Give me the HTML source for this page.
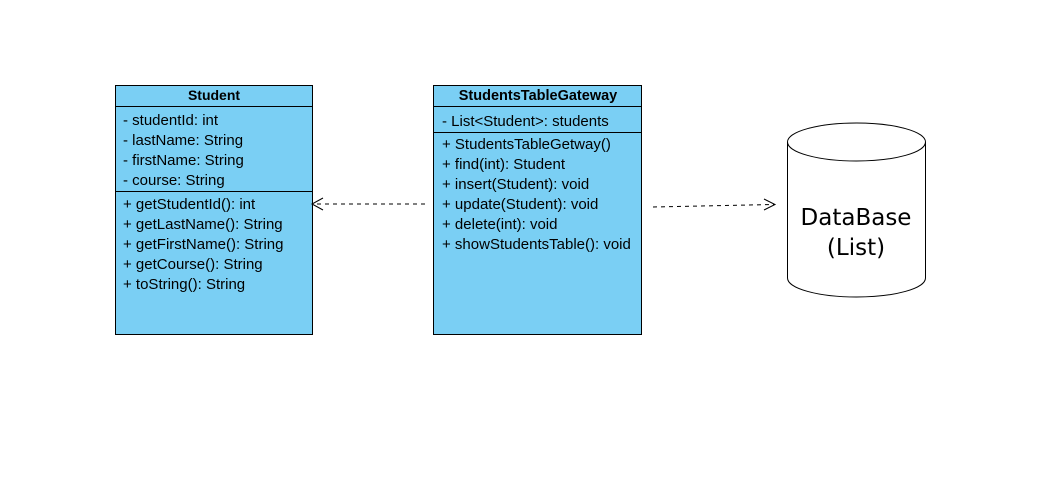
<!DOCTYPE html>
<html><head><meta charset="utf-8"><style>
html,body{margin:0;padding:0;background:#fff;}
svg text{font-family:"Liberation Sans",Arial,sans-serif;font-size:15px;fill:#000;}
</style></head><body>
<svg width="1037" height="488" xmlns="http://www.w3.org/2000/svg">
<rect x="0" y="0" width="1037" height="488" fill="#fff"/>
<!-- Student -->
<rect x="115.5" y="85.5" width="197" height="249" fill="#7acff4" stroke="#000" stroke-width="1"/>
<line x1="115" y1="106.5" x2="313" y2="106.5" stroke="#000"/>
<line x1="115" y1="191.5" x2="313" y2="191.5" stroke="#000"/>
<text x="214" y="100" text-anchor="middle" font-weight="bold" style="font-size:14px">Student</text>
<text x="123" y="125">- studentId: int</text>
<text x="123" y="145">- lastName: String</text>
<text x="123" y="165">- firstName: String</text>
<text x="123" y="185">- course: String</text>
<text x="123" y="209">+ getStudentId(): int</text>
<text x="123" y="229">+ getLastName(): String</text>
<text x="123" y="249">+ getFirstName(): String</text>
<text x="123" y="269">+ getCourse(): String</text>
<text x="123" y="289">+ toString(): String</text>
<!-- Gateway -->
<rect x="433.5" y="85.5" width="208" height="249" fill="#7acff4" stroke="#000" stroke-width="1"/>
<line x1="433" y1="106.5" x2="642" y2="106.5" stroke="#000"/>
<line x1="433" y1="132.5" x2="642" y2="132.5" stroke="#000"/>
<text x="538" y="100" text-anchor="middle" font-weight="bold" style="font-size:14.5px">StudentsTableGateway</text>
<text x="442" y="126">- List&lt;Student&gt;: students</text>
<text x="442" y="149">+ StudentsTableGetway()</text>
<text x="442" y="169">+ find(int): Student</text>
<text x="442" y="189">+ insert(Student): void</text>
<text x="442" y="209">+ update(Student): void</text>
<text x="442" y="229">+ delete(int): void</text>
<text x="442" y="249">+ showStudentsTable(): void</text>
<!-- arrows -->
<line x1="425" y1="204" x2="313" y2="204" stroke="#000" stroke-dasharray="4,4"/>
<polyline points="323,198 312,204 323,210" fill="none" stroke="#000"/>
<line x1="653" y1="207" x2="774" y2="204.5" stroke="#000" stroke-dasharray="4,4"/>
<polyline points="764,199 775,204.5 764,210" fill="none" stroke="#000"/>
<!-- cylinder -->
<path d="M787.5,142 L787.5,278 A69,19 0 0 0 925.5,278 L925.5,142" fill="#fff" stroke="#000"/>
<ellipse cx="856.5" cy="142" rx="69" ry="19" fill="#fff" stroke="#000"/>
<text x="856" y="225" text-anchor="middle" style="font-size:23px;font-family:'DejaVu Sans','Liberation Sans',sans-serif">DataBase</text>
<text x="856" y="255" text-anchor="middle" style="font-size:23px;font-family:'DejaVu Sans','Liberation Sans',sans-serif">(List)</text>
</svg>
</body></html>
